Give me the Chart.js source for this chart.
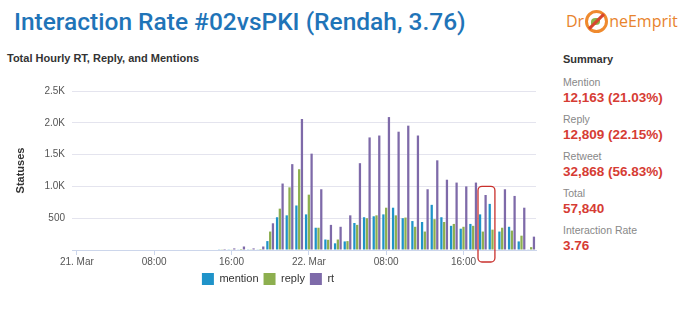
<!DOCTYPE html>
<html>
<head>
<meta charset="utf-8">
<script src="https://cdn.jsdelivr.net/npm/chart.js@4"></script>
<style>
  body { margin: 0; width: 680px; height: 327px; background: #fff; position: relative; overflow: hidden; font-family: "Liberation Sans", Arial, sans-serif; }
  .titulo { position: absolute; left: 14px; top: 7px; font-family: Roboto, sans-serif; font-weight: 500; font-size: 24.5px; color: #1f74b8; white-space: nowrap; }
  .logo { position: absolute; left: 566px; top: 10px; font-family: "Open Sans", sans-serif; font-size: 16px; color: #e8832c; white-space: nowrap; }
  .logo .bola { display: inline-block; width: 17px; height: 17px; border: 3px solid #ef8a2e; border-radius: 50%; vertical-align: -6px; margin: 0 1px; position: relative; }
  .logo .bola:after { content: ""; position: absolute; left: 7px; top: -2px; width: 3px; height: 21px; background: #d8452e; transform: rotate(45deg); }
  .logo .bola:before { content: ""; position: absolute; left: 3px; top: 5px; width: 9px; height: 7px; background: #8bb34a; border-radius: 50% 10% 50% 10%; }
  .subtitulo { position: absolute; left: 7px; top: 52px; font-weight: bold; font-size: 11px; color: #333; white-space: nowrap; }
  .grafico { position: absolute; left: 0; top: 77px; width: 552px; height: 218px; }
  .resumo { position: absolute; left: 563px; top: 53px; }
  .resumo h4 { margin: 0 0 11px 0; font-size: 11px; font-weight: bold; color: #333; }
  .resumo .rot { font-size: 10.5px; color: #888; line-height: 13px; }
  .resumo .val { font-size: 13.5px; font-weight: bold; color: #d63c34; line-height: 17px; margin-bottom: 7px; }
</style>
</head>
<body>
<div class="titulo">Interaction Rate #02vsPKI (Rendah, 3.76)</div>
<div class="logo">Dr<span class="bola"></span>neEmprit</div>
<div class="subtitulo">Total Hourly RT, Reply, and Mentions</div>
<div class="grafico"><canvas id="grafico"></canvas></div>
<div class="resumo">
  <h4>Summary</h4>
  <div class="rot">Mention</div><div class="val">12,163 (21.03%)</div>
  <div class="rot">Reply</div><div class="val">12,809 (22.15%)</div>
  <div class="rot">Retweet</div><div class="val">32,868 (56.83%)</div>
  <div class="rot">Total</div><div class="val">57,840</div>
  <div class="rot">Interaction Rate</div><div class="val">3.76</div>
</div>
<script>
// horas de 21 e 22 de marco
const horas = [
  '21 00:00','21 01:00','21 02:00','21 03:00','21 04:00','21 05:00','21 06:00','21 07:00',
  '21 08:00','21 09:00','21 10:00','21 11:00','21 12:00','21 13:00','21 14:00','21 15:00',
  '21 16:00','21 17:00','21 18:00','21 19:00','21 20:00','21 21:00','21 22:00','21 23:00',
  '22 00:00','22 01:00','22 02:00','22 03:00','22 04:00','22 05:00','22 06:00','22 07:00',
  '22 08:00','22 09:00','22 10:00','22 11:00','22 12:00','22 13:00','22 14:00','22 15:00',
  '22 16:00','22 17:00','22 18:00','22 19:00','22 20:00','22 21:00','22 22:00','22 23:00'
];

// rotulos do eixo x (indice da hora -> texto)
const rotulosX = { 0: '21. Mar', 8: '08:00', 16: '16:00', 24: '22. Mar', 32: '08:00', 40: '16:00' };

const mention = [
  0,0,0,0,0,0,0,0, 0,0,0,0,0,0,0,5,
  5,10,5,10,140,515,545,700,
  560,350,165,105,135,425,515,530,
  560,665,500,455,440,710,515,380,
  335,410,560,725,290,365,135,10
];
const reply = [
  0,0,0,0,0,0,0,0, 0,0,0,0,0,0,0,5,
  10,15,5,15,290,650,985,1270,
  870,350,160,165,140,395,500,545,
  665,545,510,365,290,485,440,410,
  365,380,290,320,350,305,225,45
];
const rt = [
  0,0,0,0,0,0,0,0, 0,0,0,0,0,0,0,15,
  25,55,25,55,420,1045,1350,2060,
  1515,955,395,365,545,1365,1770,1800,
  2090,1860,1955,1800,955,1410,1105,1060,
  1000,1060,865,null,955,850,665,210
];

// caixa vermelha em volta das horas 18:00-19:00 do dia 22
const destaque = { de: 42, ate: 43, topo: 1000 };

const caixaVermelha = {
  id: 'caixaVermelha',
  afterDatasetsDraw(chart) {
    const x = chart.scales.x, y = chart.scales.y, c = chart.ctx;
    const meia = (x.getPixelForValue(1) - x.getPixelForValue(0)) / 2;
    const esq = x.getPixelForValue(destaque.de) - meia;
    const dir = x.getPixelForValue(destaque.ate) + meia * 0.5;
    const topo = y.getPixelForValue(destaque.topo);
    const baixo = y.bottom + 12;
    c.save();
    c.strokeStyle = '#c9302c';
    c.lineWidth = 1.3;
    c.beginPath();
    c.roundRect(esq, topo, dir - esq, baixo - topo, 4);
    c.stroke();
    c.restore();
  }
};

const fonte = { family: '"Liberation Sans", Arial, sans-serif', size: 10 };

new Chart(document.getElementById('grafico'), {
  type: 'bar',
  data: {
    labels: horas,
    datasets: [
      { label: 'mention', data: mention, backgroundColor: '#1f93c9' },
      { label: 'reply', data: reply, backgroundColor: '#8daf4f' },
      { label: 'rt', data: rt, backgroundColor: '#7e6aa9' }
    ]
  },
  options: {
    responsive: true,
    maintainAspectRatio: false,
    animation: false,
    layout: { padding: { top: 14, right: 16, left: 0, bottom: 0 } },
    datasets: { bar: { categoryPercentage: 0.86, barPercentage: 0.82 } },
    plugins: {
      legend: {
        position: 'bottom',
        labels: { boxWidth: 12, boxHeight: 12, padding: 5, color: '#333', font: { family: fonte.family, size: 11 } }
      },
      tooltip: { enabled: false }
    },
    scales: {
      x: {
        offset: true,
        grid: {
          offset: false,
          drawOnChartArea: false,
          tickLength: 5,
          color: (ctx) => rotulosX[ctx.index] !== undefined ? '#ccd6eb' : 'transparent'
        },
        border: { display: true, color: '#ccd6eb' },
        ticks: {
          autoSkip: false,
          maxRotation: 0,
          padding: 1,
          color: '#555',
          font: fonte,
          callback: (v, i) => rotulosX[i] || ''
        },
        afterFit: (s) => { s.height = 18; }
      },
      y: {
        min: 0,
        max: 2500,
        ticks: {
          stepSize: 500,
          padding: 7,
          color: '#555',
          font: fonte,
          callback: (v) => v === 0 ? '' : (v >= 1000 ? (v / 1000).toFixed(1) + 'K' : v)
        },
        grid: { color: '#e4e4ee', drawTicks: false },
        border: { display: false },
        title: {
          display: true,
          text: 'Statuses',
          color: '#333',
          font: { family: fonte.family, size: 11, weight: 'bold' },
          padding: { top: 14, bottom: 0 }
        },
        afterFit: (s) => { s.width = 72; }
      }
    }
  },
  plugins: [caixaVermelha]
});
</script>
</body>
</html>
